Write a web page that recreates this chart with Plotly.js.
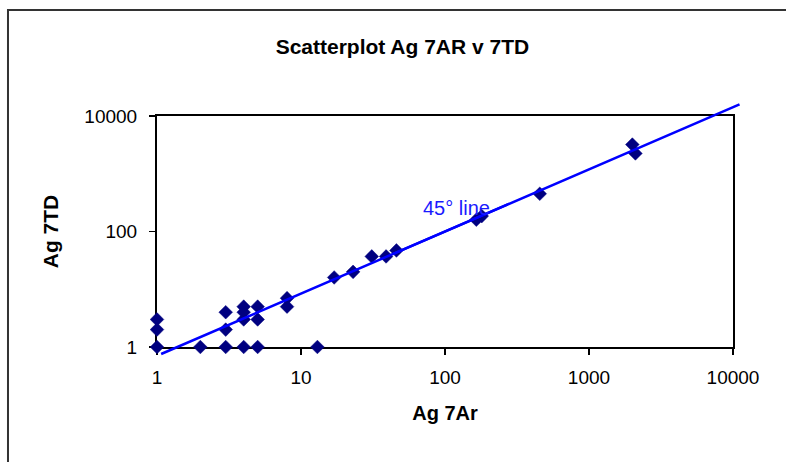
<!DOCTYPE html>
<html>
<head>
<meta charset="utf-8">
<script src="https://cdn.plot.ly/plotly-3.0.1.min.js"></script>
<style>
  html, body { margin: 0; padding: 0; background: #ffffff; }
  #chart { width: 786px; height: 462px; }
</style>
</head>
<body>
<div id="chart"></div>
<script>
// Ag results: 7Ar (x) against 7TD (y)
const agAr = [1, 1, 1, 2, 3, 3, 3, 4, 4, 4, 4, 5, 5, 5, 8, 8, 13, 17, 23, 31, 39, 46, 165, 180, 455, 2000, 2100];
const agTD = [1, 2, 3, 1, 1, 2, 4, 1, 3, 4, 5, 1, 3, 5, 5, 7, 1, 16, 20, 37, 37, 47, 160, 185, 450, 3200, 2250];

// 45 degree reference line end points (it runs a little past the plot box)
const lineAr = [1.06, 11100];
const lineTD = [0.75, 15900];

// axis ticks
const xTicks = [1, 10, 100, 1000, 10000];
const yTicks = [1, 100, 10000];

const FONT = '"Liberation Sans", Arial, Helvetica, sans-serif';

const traces = [
  {
    x: agAr,
    y: agTD,
    type: 'scatter',
    mode: 'markers',
    cliponaxis: false,
    marker: { symbol: 'diamond', size: 10.5, color: '#000080', line: { color: '#000080', width: 0.5 } },
    hoverinfo: 'x+y'
  }
];

// The reference line is drawn as two overlapping arrowless annotation segments
// (in log space), so it can overhang the plot box.
const lx = lineAr.map(Math.log10);
const ly = lineTD.map(Math.log10);
function along(t) {
  return [lx[0] + (lx[1] - lx[0]) * t, ly[0] + (ly[1] - ly[0]) * t];
}
function segment(p0, p1) {
  return {
    xref: 'x', yref: 'y', axref: 'x', ayref: 'y',
    x: p1[0], y: p1[1], ax: p0[0], ay: p0[1],
    text: ' ',
    font: { size: 1 },
    borderpad: 0,
    showarrow: true,
    arrowhead: 0,
    arrowwidth: 2.5,
    arrowcolor: '#0000ff',
    standoff: 0,
    startstandoff: 0
  };
}

const axisCommon = {
  type: 'log',
  range: [0, 4],
  showgrid: false,
  zeroline: false,
  showline: true,
  linecolor: '#000000',
  linewidth: 2,
  mirror: true,
  ticks: 'outside',
  ticklen: 6,
  tickwidth: 1.5,
  tickcolor: '#000000',
  layer: 'below traces',
  tickfont: { family: FONT, size: 19, color: '#000000' }
};

const layout = {
  width: 786,
  height: 462,
  margin: { l: 157, r: 53, t: 116, b: 115 },
  paper_bgcolor: '#ffffff',
  plot_bgcolor: '#ffffff',
  showlegend: false,
  title: {
    text: '<b>Scatterplot Ag 7AR v 7TD</b>',
    font: { family: FONT, size: 21, color: '#000000' },
    xref: 'container', yref: 'container',
    x: 0.512, y: 0.9, xanchor: 'center', yanchor: 'middle'
  },
  xaxis: Object.assign({}, axisCommon, {
    tickvals: xTicks,
    ticktext: xTicks.map(String),
    ticklabelstandoff: 6,
    title: { text: '<b>Ag 7Ar</b>', font: { family: FONT, size: 20, color: '#000000' }, standoff: 19 }
  }),
  yaxis: Object.assign({}, axisCommon, {
    tickvals: yTicks,
    ticktext: yTicks.map(String),
    ticklabelstandoff: 8,
    title: { text: '<b>Ag 7TD</b>', font: { family: FONT, size: 21, color: '#000000' }, standoff: 20 }
  }),
  annotations: [
    segment(along(0), along(0.6)),
    segment(along(0.4), along(1)),
    {
      text: '45° line',
      xref: 'x', yref: 'y',
      x: 2.08, y: 2.41,
      showarrow: false,
      font: { family: FONT, size: 20, color: '#1a1aff' }
    }
  ],
  shapes: [
    {
      // chart frame
      type: 'rect', xref: 'paper', yref: 'paper',
      x0: -0.2587, x1: 1.3, y0: -0.7, y1: 1.4589,
      line: { color: '#333333', width: 2 },
      fillcolor: 'rgba(0,0,0,0)',
      layer: 'below'
    }
  ]
};

Plotly.newPlot('chart', traces, layout, { displayModeBar: false, staticPlot: true });
</script>
</body>
</html>
